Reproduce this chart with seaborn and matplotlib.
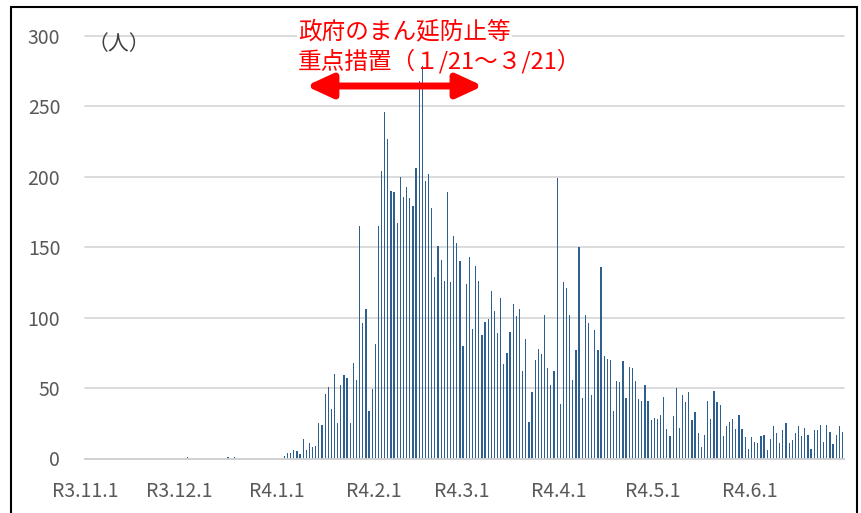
import numpy as np
import pandas as pd
import matplotlib.pyplot as plt
import seaborn as sns
from matplotlib.patches import Rectangle

# daily counts (people), R3.11.1 - R4.6.30
month_labels = ['R3.11.1', 'R3.12.1', 'R4.1.1', 'R4.2.1',
                'R4.3.1', 'R4.4.1', 'R4.5.1', 'R4.6.1']
nov = [0] * 30
dec = [0, 0, 1, 0, 0, 0, 0, 0, 0, 0, 0, 0, 0, 0, 0, 1,
       0, 1, 0, 0, 0, 0, 0, 0, 0, 0, 0, 0, 0, 0, 0]
jan = [0, 0, 2, 4, 4, 6, 5, 3, 14, 6, 11, 8, 9, 25, 24, 46,
       51, 35, 60, 25, 52, 59, 57, 25, 68, 56, 165, 96, 106, 34, 49]
feb = [81, 165, 204, 246, 227, 190, 189, 167, 200, 186, 193, 185, 179, 206,
       268, 279, 197, 202, 178, 129, 151, 141, 126, 189, 125, 158, 153, 140]
mar = [80, 124, 143, 92, 137, 126, 88, 97, 99, 119, 105, 89, 114, 67, 75,
       90, 110, 101, 106, 62, 85, 26, 47, 70, 78, 74, 102, 64, 52, 62, 199]
apr = [39, 125, 121, 102, 56, 77, 150, 43, 102, 96, 45, 91, 77, 136, 73,
       71, 70, 34, 55, 54, 69, 43, 65, 64, 55, 42, 41, 52, 41, 27]
may = [29, 28, 31, 44, 21, 16, 30, 50, 22, 45, 40, 47, 27, 33, 18, 8,
       17, 41, 28, 48, 40, 38, 16, 23, 26, 28, 21, 31, 21, 15, 7]
jun = [15, 12, 11, 16, 17, 6, 14, 23, 18, 11, 20, 25, 11, 13, 18,
       23, 16, 22, 17, 7, 20, 20, 24, 12, 24, 19, 10, 17, 23, 19]

months = [nov, dec, jan, feb, mar, apr, may, jun]
counts = sum(months, [])
month_len = [len(m) for m in months]

df = pd.DataFrame({'day': range(len(counts)), 'count': counts})

sns.set_theme(style='white')
plt.rcParams['font.family'] = ['Noto Sans CJK JP', 'DejaVu Sans']

fig = plt.figure(figsize=(8.62, 5.13), dpi=100)
ax = fig.add_axes([85.3 / 862, 54.5 / 513, (844 - 85.3) / 862, (458.5 - 36) / 513])

sns.barplot(data=df, x='day', y='count', color='#2F5F8F', saturation=1,
            width=0.4, linewidth=0, errorbar=None, ax=ax)

ax.set_xlim(-0.5, len(counts) - 0.5)
ax.set_ylim(0, 300)
ax.set_yticks(range(0, 301, 50))
ax.set_xticks(np.cumsum([0] + month_len) - 0.5)
ax.set_xticklabels(month_labels + [''])
ax.set_xlabel('')
ax.set_ylabel('')

ax.set_axisbelow(True)
ax.yaxis.grid(True, color='#d9d9d9', linewidth=1.3)
for gl in ax.get_ygridlines():
    gl.set_clip_on(False)

sns.despine(ax=ax, left=True, top=True, right=True)
ax.spines['bottom'].set_color('#d0d0d0')
ax.spines['bottom'].set_linewidth(1.3)
ax.tick_params(axis='x', length=6, width=1.3, color='#d0d0d0',
               labelsize=14, labelcolor='#595959', pad=10)
ax.tick_params(axis='y', length=0, labelsize=14, labelcolor='#595959', pad=18)

fig.text(88 / 862, 1 - 44 / 513, '（人）', fontsize=15, color='#404040',
         va='center', ha='left')

fig.text(298 / 862, 1 - 32 / 513, '政府のまん延防止等', fontsize=17,
         color='red', va='center', ha='left',
         bbox=dict(fc='white', ec='none', pad=1))
fig.text(298 / 862, 1 - 61 / 513, '重点措置（１/21～３/21）', fontsize=17,
         color='red', va='center', ha='left')

ax.annotate('', xy=(483, 513 - 86), xytext=(306, 513 - 86),
            xycoords='figure pixels', textcoords='figure pixels',
            arrowprops=dict(arrowstyle='<|-|>,head_length=1.3,head_width=0.6',
                            color='red', lw=5, shrinkA=0, shrinkB=0))

# outer frame
fig.add_artist(Rectangle((11 / 862, -0.05), (857 - 11) / 862, 1.05 - 7 / 513,
                         transform=fig.transFigure, fill=False,
                         edgecolor='black', linewidth=1.5))

fig.savefig('out.png', dpi=100)
